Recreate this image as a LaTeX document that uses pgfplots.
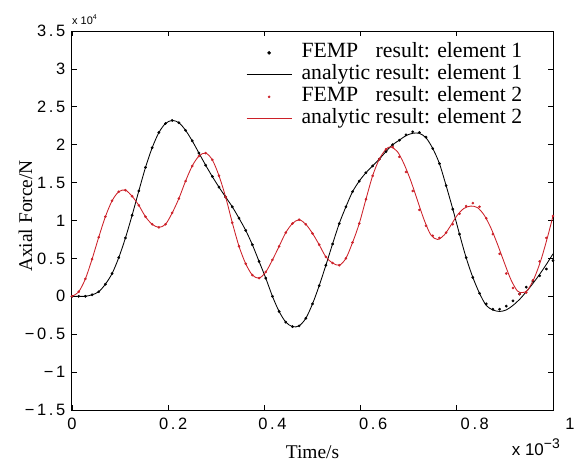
\documentclass[border=0pt]{standalone}
\usepackage{pgfplots}
\pgfplotsset{compat=1.18}
\usepackage{pgfplotstable}
\usepackage{fontspec}
\setmainfont{Liberation Serif}
\newfontfamily\tickfont{Liberation Sans}[LetterSpace=16]
\newfontfamily\sansplain{Liberation Sans}
\definecolor{femred}{RGB}{204,32,40}

% FEMP results (t in 1e-3 s, force in 1e4 N)
\pgfplotstableread{
t e1 e2
0 0 0
0.0139 0.00 0.06
0.0278 0.00 0.23
0.0417 0.02 0.49
0.0556 0.06 0.78
0.0694 0.16 1.05
0.0833 0.30 1.26
0.0972 0.51 1.38
0.1111 0.77 1.40
0.125 1.07 1.32
0.1389 1.39 1.20
0.1528 1.70 1.05
0.1667 1.96 0.95
0.1806 2.16 0.91
0.1944 2.28 0.95
0.2083 2.32 1.10
0.2222 2.29 1.29
0.2361 2.19 1.52
0.25 2.05 1.72
0.2639 1.89 1.85
0.2778 1.73 1.89
0.2917 1.58 1.80
0.3056 1.44 1.59
0.3194 1.31 1.31
0.3333 1.18 0.97
0.3472 1.03 0.66
0.3611 0.87 0.43
0.375 0.68 0.28
0.3889 0.46 0.24
0.4028 0.24 0.32
0.4167 0.00 0.48
0.4306 -0.20 0.66
0.4444 -0.34 0.84
0.4583 -0.40 0.96
0.4722 -0.39 1.01
0.4861 -0.29 0.95
0.5 -0.10 0.83
0.5139 0.14 0.68
0.5278 0.41 0.52
0.5417 0.69 0.44
0.5556 0.96 0.41
0.5694 1.18 0.50
0.5833 1.38 0.71
0.5972 1.52 0.96
0.6111 1.63 1.28
0.625 1.72 1.59
0.6389 1.81 1.81
0.6528 1.91 1.94
0.6667 2.00 1.97
0.6806 2.06 1.84
0.6944 2.13 1.64
0.7083 2.17 1.39
0.7222 2.16 1.14
0.7361 2.10 0.93
0.75 1.95 0.80
0.7639 1.75 0.77
0.7778 1.46 0.84
0.7917 1.15 0.95
0.8056 0.82 1.09
0.8194 0.51 1.19
0.8333 0.25 1.23
0.8472 0.04 1.18
0.8611 -0.10 1.03
0.875 -0.17 0.82
0.8889 -0.17 0.56
0.9028 -0.13 0.30
0.9167 -0.06 0.11
0.9306 0.03 0.03
0.9444 0.12 0.05
0.9583 0.20 0.21
0.9722 0.27 0.46
0.9861 0.36 0.77
1.0 0.47 1.06
}\pts

% analytic result, element 1
\pgfplotstableread{
t v
0 0
0.0139 0.00
0.0278 0.00
0.0417 0.02
0.0556 0.06
0.0694 0.16
0.0833 0.30
0.0972 0.51
0.1111 0.77
0.125 1.07
0.1389 1.39
0.1528 1.70
0.1667 1.96
0.1806 2.16
0.1944 2.28
0.2083 2.32
0.2222 2.29
0.2361 2.19
0.25 2.05
0.2639 1.89
0.2778 1.73
0.2917 1.58
0.3056 1.44
0.3194 1.31
0.3333 1.18
0.3472 1.03
0.3611 0.87
0.375 0.68
0.3889 0.46
0.4028 0.24
0.4167 0.00
0.4306 -0.20
0.4444 -0.34
0.4583 -0.40
0.4722 -0.39
0.4861 -0.29
0.5 -0.10
0.5139 0.14
0.5278 0.41
0.5417 0.69
0.5556 0.96
0.5694 1.18
0.5833 1.38
0.5972 1.52
0.6111 1.63
0.625 1.72
0.6389 1.81
0.6528 1.91
0.6667 2.00
0.6806 2.06
0.6944 2.12
0.7083 2.15
0.7222 2.15
0.7361 2.09
0.75 1.95
0.7639 1.75
0.7778 1.46
0.7917 1.15
0.8056 0.82
0.8194 0.51
0.8333 0.25
0.8472 0.04
0.8611 -0.12
0.875 -0.18
0.8889 -0.20
0.9028 -0.18
0.9167 -0.12
0.9306 -0.04
0.9444 0.06
0.9583 0.17
0.9722 0.29
0.9861 0.42
1.0 0.56
}\lineA

% analytic result, element 2
\pgfplotstableread{
t v
0 0
0.0139 0.06
0.0278 0.23
0.0417 0.49
0.0556 0.78
0.0694 1.05
0.0833 1.26
0.0972 1.38
0.1111 1.40
0.125 1.32
0.1389 1.20
0.1528 1.05
0.1667 0.95
0.1806 0.91
0.1944 0.95
0.2083 1.10
0.2222 1.29
0.2361 1.52
0.25 1.72
0.2639 1.85
0.2778 1.89
0.2917 1.80
0.3056 1.59
0.3194 1.31
0.3333 0.97
0.3472 0.66
0.3611 0.43
0.375 0.28
0.3889 0.24
0.4028 0.32
0.4167 0.48
0.4306 0.66
0.4444 0.84
0.4583 0.96
0.4722 1.01
0.4861 0.95
0.5 0.83
0.5139 0.68
0.5278 0.52
0.5417 0.44
0.5556 0.41
0.5694 0.50
0.5833 0.71
0.5972 0.96
0.6111 1.28
0.625 1.59
0.6389 1.81
0.6528 1.94
0.6625 1.97
0.6764 1.91
0.690 1.75
0.704 1.53
0.718 1.27
0.732 1.01
0.746 0.81
0.760 0.75
0.774 0.81
0.788 0.94
0.801 1.07
0.815 1.16
0.829 1.19
0.843 1.17
0.857 1.07
0.871 0.90
0.885 0.68
0.899 0.44
0.9125 0.22
0.926 0.07
0.937 0.05
0.947 0.08
0.961 0.24
0.975 0.48
0.989 0.79
1.0 1.06
}\lineB

\begin{document}
\begin{tikzpicture}
\begin{axis}[
  scale only axis, width=481bp, height=379bp,
  xmin=0, xmax=1, ymin=-1.5, ymax=3.5,
  xtick={0,0.2,0.4,0.6,0.8,1},
  xticklabels={0,\hspace*{10bp}0.2,\hspace*{16bp}0.4,\hspace*{25bp}0.6,\hspace*{36bp}0.8,\hspace*{34bp}1},
  ytick={-1.5,-1,-0.5,0,0.5,1,1.5,2,2.5,3,3.5},
  yticklabels={−1.5,−1,−0.5,0,0.5,1,1.5,2,2.5,3,3.5},
  tick align=inside, tick pos=both, major tick length=5bp,
  ticklabel style={font=\tickfont\fontsize{16.5}{16.5}\selectfont, inner sep=0pt},
  xticklabel style={yshift=-8bp},
  yticklabel style={xshift=-6.5bp},
  axis line style={line width=1bp},
  tick style={line width=0.7bp, black},
  xlabel={Time/s},
  xlabel style={at={(axis description cs:0.5,-0.127)}, anchor=base, font=\fontsize{19.5}{19.5}\selectfont},
  ylabel={Axial Force/N},
  ylabel style={at={(axis description cs:-0.083,0.512)}, anchor=base, font=\fontsize{19.5}{19.5}\selectfont},
  legend style={draw=none, fill=none, inner sep=0pt, at={(0.9397,0.972)}, anchor=north east,
    font=\fontsize{21.8}{21.8}\selectfont, row sep=0pt,
    nodes={inner sep=1.5bp, text height=14bp, text depth=5bp}},
  legend cell align=left,
]
\addplot[only marks, mark=*, mark size=1.2bp, black,
  legend image code/.code={\path (0,0) (53bp,0); \draw[black, mark=*, mark size=1.6bp] plot coordinates {(22.5bp,0)};}]
  table[x=t, y=e1]{\pts};
\addlegendentry{\makebox[3.416em][l]{FEMP}result: element 1}
\addplot[black, line width=0.85bp, smooth, tension=0.5,
  legend image code/.code={\path (0,0) (53bp,0); \draw[black, line width=0.85bp] (0,0) -- (45bp,0);}]
  table[x=t, y=v]{\lineA};
\addlegendentry{analytic result: element 1}
\addplot[only marks, mark=*, mark size=1.1bp, femred,
  legend image code/.code={\path (0,0) (53bp,0); \draw[femred, mark=*, mark size=1.1bp] plot coordinates {(22.5bp,0)};}]
  table[x=t, y=e2]{\pts};
\addlegendentry{\makebox[3.416em][l]{FEMP}result: element 2}
\addplot[femred, line width=0.85bp, smooth, tension=0.5,
  legend image code/.code={\path (0,0) (53bp,0); \draw[femred, line width=0.85bp] (0,0) -- (45bp,0);}]
  table[x=t, y=v]{\lineB};
\addlegendentry{analytic result: element 2}
\end{axis}
\node[anchor=base west, inner sep=0pt, font=\sansplain\fontsize{11}{11}\selectfont] at (0bp,385bp) {x 10\raisebox{5bp}{\fontsize{7}{7}\selectfont 4}};
\node[anchor=base east, inner sep=0pt, font=\sansplain\fontsize{17}{17}\selectfont] at (488bp,-45bp) {x 10\raisebox{7bp}{\fontsize{14}{14}\selectfont −3}};
\pgfresetboundingbox
\path[use as bounding box] (-72bp,-52bp) rectangle (511bp,410bp);
\end{tikzpicture}
\end{document}
